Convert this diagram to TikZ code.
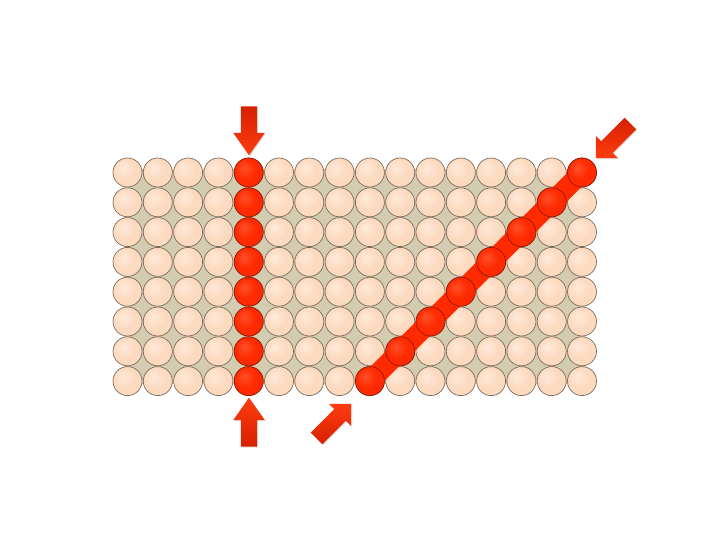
\documentclass[tikz,border=0pt]{standalone}
\usepackage{tikz}
\usetikzlibrary{shapes,shapes.arrows,shadows,calc,positioning}
\usepackage{xcolor}

\definecolor{traycolor}{RGB}{212,204,176}
\definecolor{beadhi}{RGB}{255,234,218}
\definecolor{beadmid}{RGB}{252,218,192}
\definecolor{beadrim}{RGB}{192,156,124}
\definecolor{beadedge}{RGB}{125,108,92}
\definecolor{redhi}{RGB}{255,80,40}
\definecolor{redmid}{RGB}{255,42,0}
\definecolor{redrim}{RGB}{180,26,0}
\definecolor{rededge}{RGB}{150,24,0}
\definecolor{arrowlight}{RGB}{255,60,16}
\definecolor{arrowdark}{RGB}{214,32,0}

\pgfdeclareradialshading{beadshade}{\pgfpoint{-8bp}{8bp}}{%
  color(0bp)=(beadhi); color(18bp)=(beadmid); color(40bp)=(beadmid);
  color(54bp)=(beadrim); color(70bp)=(beadrim)}
\pgfdeclareradialshading{redshade}{\pgfpoint{-8bp}{8bp}}{%
  color(0bp)=(redhi); color(18bp)=(redmid); color(40bp)=(redmid);
  color(54bp)=(redrim); color(70bp)=(redrim)}

\tikzset{
  bead/.style={
    % The shape:
    circle,
    % The size:
    minimum size=29pt, inner sep=0pt,
    % The border:
    draw=beadedge, line width=0.7pt,
    % The filling:
    shading=beadshade
  },
  redbead/.style={
    bead,
    draw=rededge,
    shading=redshade
  },
  pusharrow/.style={
    % The shape:
    single arrow,
    single arrow head extend=7.5pt,
    single arrow tip angle=#1,
    % The size:
    minimum height=49pt, inner sep=8pt,
    % The rest
    draw=none,
    drop shadow={opacity=0.25, shadow xshift=1pt, shadow yshift=-1pt}
  },
  band/.style={draw=redmid, line width=20pt}
}

\begin{document}
\begin{tikzpicture}[x=1pt,y=-1pt]
\useasboundingbox (0,0) rectangle (720,540);
% Tray behind the beads
\fill [traycolor] (124,169) rectangle (585,384);
% Grid of beads
\foreach \i in {0,...,15} {
  \foreach \j in {0,...,7} {
    \node [bead] (b-\i-\j) at ({127.5+30.3*\i},{172.5+29.8*\j}) {};
  }
}
% Red column
\foreach \j in {0,...,7} {
  \node [redbead] (c-\j) at (b-4-\j) {};
}
% Red diagonal
\path [band] (b-8-7.center) -- (b-15-0.center);
\foreach \k in {0,...,7} {
  \pgfmathtruncatemacro{\col}{8+\k}
  \pgfmathtruncatemacro{\row}{7-\k}
  \node [redbead] (d-\k) at (b-\col-\row) {};
}
% Arrows
\node [pusharrow=70, rotate=-90, top color=arrowdark, bottom color=arrowlight] (atop) at (249,125) {};
\node [pusharrow=70, rotate=90, top color=arrowlight, bottom color=arrowdark] (abot) at (249,428) {};
\node [pusharrow=90, rotate=45, top color=arrowlight, bottom color=arrowdark] (alow) at (331,424) {};
\node [pusharrow=90, rotate=-135, top color=arrowdark, bottom color=arrowlight] (ahigh) at (616,138) {};
\end{tikzpicture}
\end{document}
